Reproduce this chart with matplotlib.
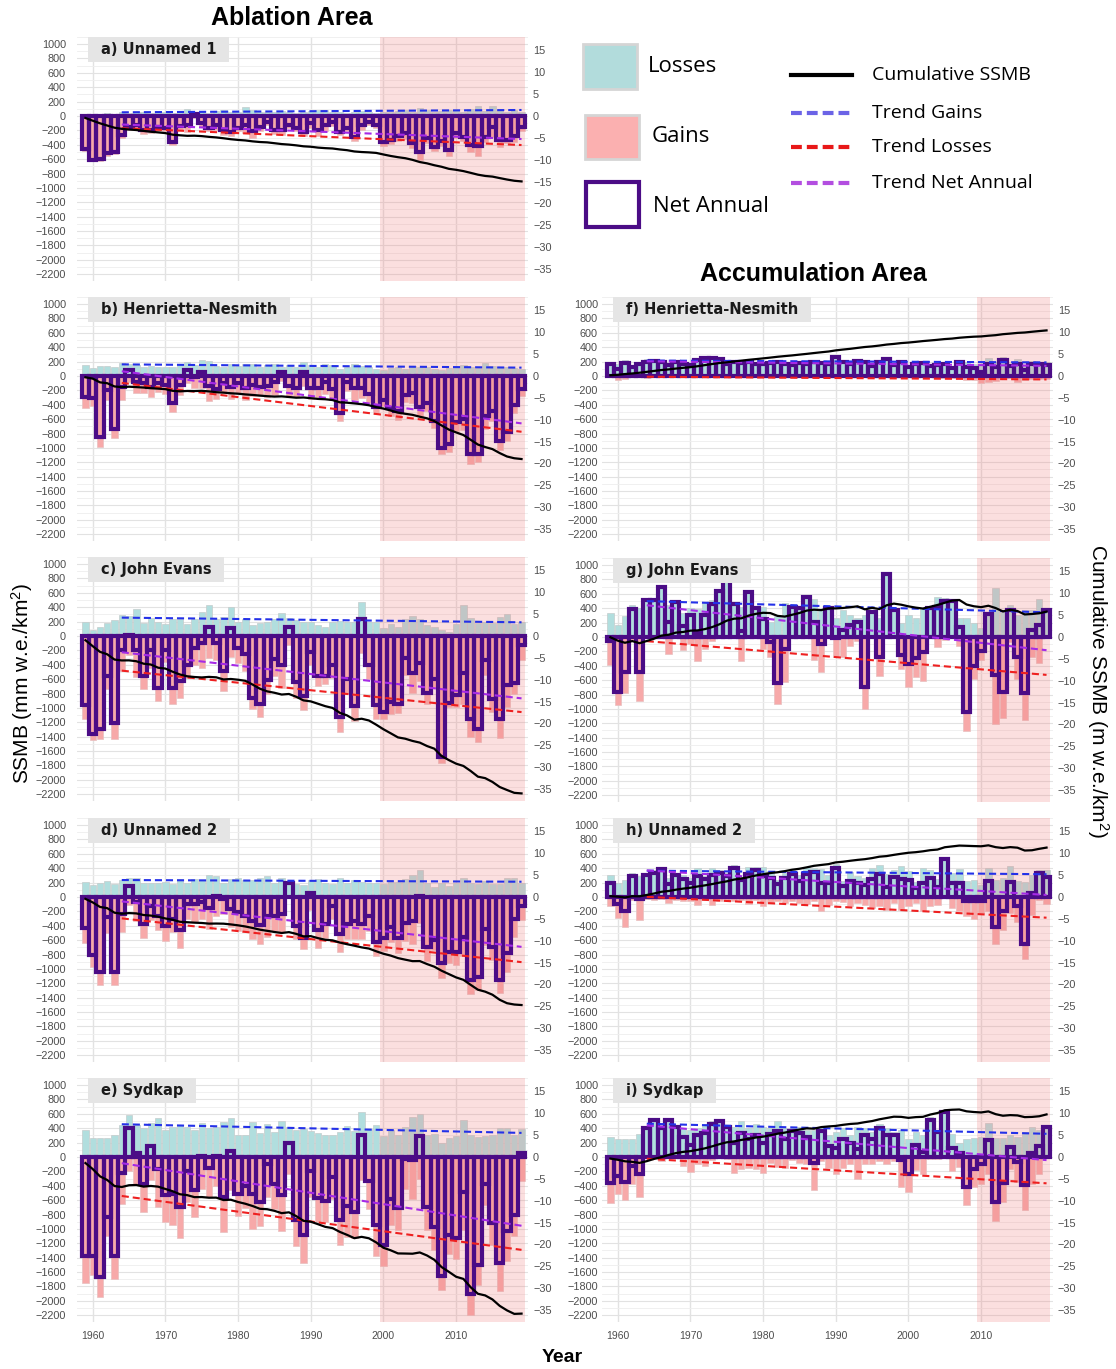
import numpy as np
import matplotlib.pyplot as plt
from matplotlib.patches import Rectangle
from matplotlib.lines import Line2D
from matplotlib.ticker import MultipleLocator

plt.rcParams['font.family'] = ['Liberation Sans', 'DejaVu Sans']
plt.rcParams['mathtext.default'] = 'regular'

W, H = 1116, 1369
years = np.arange(1959, 2020)
TREND_FROM = 1964
MM_PER_M = 60.8   # left axis (mm) units per right axis (m) unit

# annual gains (positive) and net SSMB, mm w.e.; losses = net - gains
gains_a = [30, 20, 30, 40, 30, 50, 40, 60, 50, 40, 60, 50, 40, 60, 100,
           60, 50, 40, 70, 80, 60, 50, 120, 90, 60, 50, 60, 70, 50, 40,
           60, 70, 80, 90, 60, 50, 40, 60, 70, 50, 40, 60, 50, 70, 90,
           60, 110, 80, 60, 70, 90, 80, 60, 100, 140, 70, 140, 90, 50, 80, 60]
net_a = [-460, -610, -600, -510, -500, -260, -150, -120, -200, -190,
         -150, -160, -360, -140, -120, 30, -100, -170, -130, -190,
         -220, -160, -120, -210, -150, -80, -190, -200, -120, -170,
         -220, -100, -200, -120, -80, -220, -170, -290, -130, -80,
         -120, -360, -340, -280, -230, -380, -500, -300, -430, -350,
         -470, -230, -290, -400, -420, -290, -150, -340, -330, -280, -150]

gains_b = [150, 110, 140, 140, 120, 180, 170, 150, 130, 140, 120, 130, 120, 150, 190,
           150, 220, 210, 140, 130, 170, 140, 170, 160, 130, 150, 170, 120, 150, 130,
           190, 150, 130, 170, 150, 100, 120, 170, 140, 130, 100, 90, 110, 130, 100,
           140, 130, 120, 100, 90, 110, 130, 150, 130, 110, 180, 140, 120, 130, 110, 100]
net_b = [-290, -310, -850, -200, -740, -150, 90, -90, -100, -150,
         -100, -120, -380, -120, 90, -20, 60, -140, -180, -100,
         -150, -100, -160, -120, -150, -140, -90, 50, -140, -160,
         50, -170, -160, -80, -180, -520, -90, -160, -170, -250,
         -430, -330, -450, -480, -260, -240, -430, -370, -630, -1000,
         -950, -640, -600, -1090, -1090, -560, -480, -910, -780, -400, -180]

gains_c = [190, 90, 130, 180, 220, 290, 280, 370, 180, 250, 190, 160, 230, 230, 170,
           230, 340, 430, 230, 270, 400, 200, 230, 150, 180, 190, 230, 320, 250, 220,
           200, 190, 150, 120, 190, 210, 200, 200, 470, 200, 200, 110, 170, 130, 240,
           280, 240, 150, 130, 90, 60, 170, 430, 250, 180, 200, 180, 260, 310, 160, 200]
net_c = [-960, -1360, -1300, -560, -1210, -200, 20, -200, -560, -200,
         -720, -200, -720, -630, -410, -170, -100, 130, -100, -490,
         110, -170, -250, -860, -940, -610, -320, -410, 130, -640,
         -830, -220, -550, -550, -400, -1120, -600, -980, 230, -400,
         -960, -1050, -920, -940, -300, -510, -380, -790, -600, -1680,
         -930, -820, -520, -1150, -1300, -340, -870, -1160, -680, -650, -130]

gains_d = [210, 170, 190, 220, 180, 240, 260, 260, 200, 190, 200, 210, 180, 250, 200,
           250, 230, 300, 290, 200, 250, 260, 230, 240, 270, 290, 200, 260, 220, 180,
           160, 230, 250, 200, 180, 260, 200, 240, 210, 200, 200, 180, 210, 210, 250,
           310, 380, 200, 140, 200, 150, 190, 270, 200, 180, 220, 180, 180, 260, 260, 200]
net_d = [-430, -800, -1040, -280, -1040, -240, 150, -70, -370, -130,
         -260, -400, -300, -460, -100, -100, -70, -150, 20, -30,
         -170, -210, -260, -340, -390, -260, -270, -230, 200, -400,
         -570, 50, -460, -370, -130, -510, -380, -340, -380, -270,
         -620, -570, -420, -570, -360, -340, 20, -690, -600, -920,
         -770, -760, -550, -1150, -1110, -450, -700, -1160, -780, -300, -120]

gains_e = [370, 270, 270, 260, 310, 440, 590, 450, 400, 470, 540, 370, 420, 440, 420,
           380, 470, 400, 420, 480, 540, 300, 310, 480, 330, 460, 350, 500, 420, 370,
           390, 360, 330, 300, 310, 350, 430, 360, 630, 390, 440, 290, 370, 300, 420,
           550, 600, 310, 320, 190, 260, 290, 520, 300, 280, 290, 310, 400, 410, 300, 390]
net_e = [-1380, -1370, -1670, -840, -1380, -220, 400, 60, -370, 150,
         -160, -530, -520, -690, -200, -460, 20, -150, 20, -560,
         80, -520, -400, -520, -630, -100, -370, -530, 190, -870,
         -1080, -200, -570, -610, -280, -870, -680, -760, 310, -330,
         -940, -1230, -580, -710, -30, -40, 290, -700, -980, -1660,
         -1090, -1130, -490, -1900, -1500, -380, -920, -1470, -1030, -800, 60]

gains_f = [190, 160, 220, 150, 190, 230, 230, 220, 170, 210, 190, 170, 240, 270, 270,
           250, 180, 220, 200, 210, 180, 190, 200, 210, 180, 170, 200, 190, 210, 200,
           190, 280, 210, 190, 230, 220, 160, 210, 250, 170, 210, 140, 180, 200, 160,
           180, 200, 140, 220, 190, 170, 160, 250, 200, 260, 170, 240, 140, 210, 200, 190]
net_f = [170, 100, 180, 130, 170, 200, 210, 200, 150, 190, 170, 150, 220, 250, 250,
         230, 160, 200, 180, 190, 160, 170, 180, 190, 160, 150, 180, 170, 190, 180,
         170, 260, 190, 170, 210, 200, 140, 190, 230, 150, 190, 120, 160, 180, 140,
         150, 170, 110, 190, 130, 110, 60, 160, 130, 220, 140, 160, 90, 170, 160, 150]

gains_g = [330, 170, 290, 440, 400, 520, 530, 720, 450, 500, 330, 400, 390, 470, 520,
           650, 830, 470, 420, 630, 420, 420, 210, 290, 470, 420, 400, 560, 530, 380,
           420, 270, 380, 300, 260, 300, 360, 260, 880, 400, 200, 310, 260, 400, 420,
           560, 540, 510, 270, 270, 190, 120, 330, 680, 350, 440, 300, 380, 380, 530, 380]
net_g = [-60, -770, -490, 390, -490, 510, 520, 700, 210, 480,
         150, 300, 60, 300, 460, 640, 820, 460, 80, 620,
         400, 250, -70, -640, -160, 420, 400, 550, 210, -100,
         400, -10, 100, 170, 210, -700, 350, -280, 870, 380,
         -250, -380, -290, -210, 400, 420, 500, 500, 140, -1040,
         -400, -200, 320, -530, -770, 370, -280, -780, 100, 170, 370]

gains_h = [310, 190, 230, 330, 290, 330, 380, 420, 260, 340, 310, 260, 400, 290, 410,
           380, 330, 450, 280, 420, 420, 420, 360, 240, 340, 380, 300, 420, 400, 390,
           300, 460, 220, 350, 290, 270, 400, 450, 320, 370, 430, 360, 210, 400, 380,
           250, 545, 340, 390, 220, 240, 170, 410, 230, 260, 430, 220, 210, 310, 370, 380]
net_h = [190, -100, -190, 290, -30, 300, 340, 390, 180, 300,
         250, 200, 290, 250, 300, 330, 290, 400, 240, 320,
         380, 290, 270, 180, 260, 320, 220, 320, 350, 200,
         190, 400, 150, 220, 200, 160, 250, 320, 140, 280,
         250, 230, 130, 200, 260, 140, 530, 190, 190, -50,
         -60, -50, 220, -420, -200, 210, -130, -650, 60, 330, 280]

gains_i = [280, 250, 250, 250, 320, 420, 520, 450, 520, 430, 400, 380, 400, 460, 500,
           520, 450, 420, 500, 400, 460, 420, 400, 500, 400, 400, 420, 380, 380, 420,
           300, 350, 400, 300, 420, 400, 350, 460, 400, 350, 380, 250, 350, 300, 550,
           380, 650, 320, 200, 250, 260, 280, 470, 260, 260, 300, 280, 350, 420, 380, 430]
net_i = [-360, -270, -350, -130, -240, 400, 510, 400, 510, 420,
         280, 170, 300, 340, 460, 500, 420, 200, 340, 250,
         300, 200, 320, 360, 250, 360, 340, 280, -80, 360,
         150, 120, 250, 200, 110, 300, 250, 400, 300, 300,
         -40, -230, 170, 70, 520, 350, 630, 120, 60, -420,
         -160, -100, 240, -630, -360, 140, -70, -390, 50, 150, 420]

panels = [
    # label, gains, net, column, zero line (px from top), recent period start
    ("a) Unnamed 1", gains_a, net_a, 0, 116, 1999.5),
    ("b) Henrietta-Nesmith", gains_b, net_b, 0, 376, 1999.5),
    ("c) John Evans", gains_c, net_c, 0, 636, 1999.5),
    ("d) Unnamed 2", gains_d, net_d, 0, 897, 1999.5),
    ("e) Sydkap", gains_e, net_e, 0, 1157, 1999.5),
    ("f) Henrietta-Nesmith", gains_f, net_f, 1, 376, 2009.5),
    ("g) John Evans", gains_g, net_g, 1, 637, 2009.5),
    ("h) Unnamed 2", gains_h, net_h, 1, 897, 2009.5),
    ("i) Sydkap", gains_i, net_i, 1, 1157, 2009.5),
]

TEAL = '#b1dede'
PINK = '#f7a9a9'
NETC = '#4b0c86'
TICKC = '#4d4d4d'
COL_LEFT = [77, 602]
AX_W, AX_H, ABOVE0 = 451, 244.5, 79.1

fig = plt.figure(figsize=(W / 100, H / 100), dpi=100)
labels = []

for label, gains, net, col, zero_px, shade_from in panels:
    gains = np.array(gains, float)
    net = np.array(net, float)
    losses = net - gains
    top = zero_px - ABOVE0
    ax = fig.add_axes([COL_LEFT[col] / W, 1 - (top + AX_H) / H, AX_W / W, AX_H / H])
    ax.set_xlim(1957.84, 2019.89)
    ax.set_ylim(-2300, 1100)
    for s in ax.spines.values():
        s.set_visible(False)
    ax.set_yticks(np.arange(-2200, 1001, 200))
    ax.yaxis.set_minor_locator(MultipleLocator(100))
    ax.set_xticks(range(1960, 2011, 10))
    ax.grid(axis='y', which='major', color='#e2e2e2', lw=0.8)
    ax.grid(axis='y', which='minor', color='#eeeeee', lw=0.6)
    ax.grid(axis='x', which='major', color='#e2e2e2', lw=1.0)
    ax.set_axisbelow(True)
    ax.tick_params(which='both', length=0, labelsize=7.8, labelcolor=TICKC)
    ax.tick_params(axis='y', pad=8 if col == 0 else 3)
    ax.tick_params(axis='x', pad=6.5, labelsize=7.5)
    if zero_px < 1100:
        ax.tick_params(axis='x', labelbottom=False)

    ax.bar(years, gains, width=0.88, color=TEAL, edgecolor='#c4cccc', lw=0.5, zorder=1)
    ax.bar(years, losses, width=0.88, color=PINK, edgecolor='#e8c0c0', lw=0.5, zorder=1)
    ax.axvspan(shade_from, 2019.5, color='#f08080', alpha=0.25, lw=0, zorder=2)
    ax.bar(years, net, width=1.0, fill=False, edgecolor=NETC, lw=3.0, zorder=3)

    sel = years >= TREND_FROM
    for vals, c in ((gains, '#2431e8'), (losses, '#ee2020'), (net, '#a52ae6')):
        k, b = np.polyfit(years[sel], vals[sel], 1)
        ax.plot(years[sel], k * years[sel] + b, color=c, lw=1.5,
                ls=(0, (3.4, 1.9)), zorder=4)

    ax2 = ax.twinx()
    ax2.set_ylim(-2300 / MM_PER_M, 1100 / MM_PER_M)
    ax2.set_yticks(range(-35, 16, 5))
    for s in ax2.spines.values():
        s.set_visible(False)
    ax2.tick_params(length=0, labelsize=7.8, labelcolor=TICKC, pad=3.6)
    ax2.plot(years, np.cumsum(net) / 1000, color='black', lw=1.6, zorder=5)

    box_x = 0.024
    t = ax2.text(box_x + 13 / AX_W, 1 - 12.5 / AX_H, label, transform=ax2.transAxes,
                 ha='left', va='center', fontsize=10.5, fontweight='bold',
                 family=['DejaVu Sans'], color='#1a1a1a', zorder=7)
    labels.append((ax2, t, box_x))

# grey boxes sized to the panel labels
fig.canvas.draw()
for ax2, t, box_x in labels:
    bb = t.get_window_extent()
    x1 = ax2.transAxes.inverted().transform((bb.x1 + 13, bb.y0))[0]
    ax2.add_patch(Rectangle((box_x, 1 - 25 / AX_H), x1 - box_x, 25 / AX_H,
                            transform=ax2.transAxes, fc='#e5e5e5', ec='none',
                            zorder=6, clip_on=False))


def fx(x):
    return x / W


def fy(y):
    return 1 - y / H


fig.text(fx(292), fy(18), 'Ablation Area', ha='center', va='center',
         fontsize=18, fontweight='bold')
fig.text(fx(813), fy(274), 'Accumulation Area', ha='center', va='center',
         fontsize=18, fontweight='bold')
fig.text(fx(22), fy(684), 'SSMB (mm w.e./km$^2$)', rotation=90,
         ha='center', va='center', fontsize=15)
fig.text(fx(1098), fy(691), 'Cumulative SSMB (m w.e./km$^2$)', rotation=270,
         ha='center', va='center', fontsize=15)
fig.text(fx(562), fy(1358), 'Year', ha='center', va='center',
         fontsize=14, fontweight='bold')

# legend
fig.add_artist(Rectangle((fx(583), fy(89)), 54 / W, 45 / H, fc='#b2dcdc',
                         ec='#d5d5d5', lw=2, transform=fig.transFigure))
fig.add_artist(Rectangle((fx(585), fy(159)), 54 / W, 44 / H, fc='#fbb0b0',
                         ec='#d5d5d5', lw=2, transform=fig.transFigure))
fig.add_artist(Rectangle((fx(586), fy(227)), 53 / W, 45 / H, fc='white',
                         ec=NETC, lw=3, transform=fig.transFigure))
lg_font = dict(fontsize=16, va='center', ha='left', family=['Open Sans', 'DejaVu Sans'])
fig.text(fx(648), fy(67), 'Losses', **lg_font)
fig.text(fx(652), fy(137), 'Gains', **lg_font)
fig.text(fx(653), fy(207), 'Net Annual', **lg_font)

line_items = [
    (75, 'Cumulative SSMB', 'black', '-'),
    (113, 'Trend Gains', '#6b63e6', (0, (2.6, 1.2))),
    (147, 'Trend Losses', '#e81818', (0, (2.6, 1.2))),
    (183, 'Trend Net Annual', '#b34ee0', (0, (2.6, 1.2))),
]
for y, text, c, ls in line_items:
    fig.add_artist(Line2D([fx(791), fx(852)], [fy(y), fy(y)], color=c, lw=3,
                          ls=ls, transform=fig.transFigure))
    fig.text(fx(872), fy(y), text, fontsize=14, va='center', ha='left',
             family=['Open Sans', 'DejaVu Sans'])

fig.savefig('out.png', dpi=100)
